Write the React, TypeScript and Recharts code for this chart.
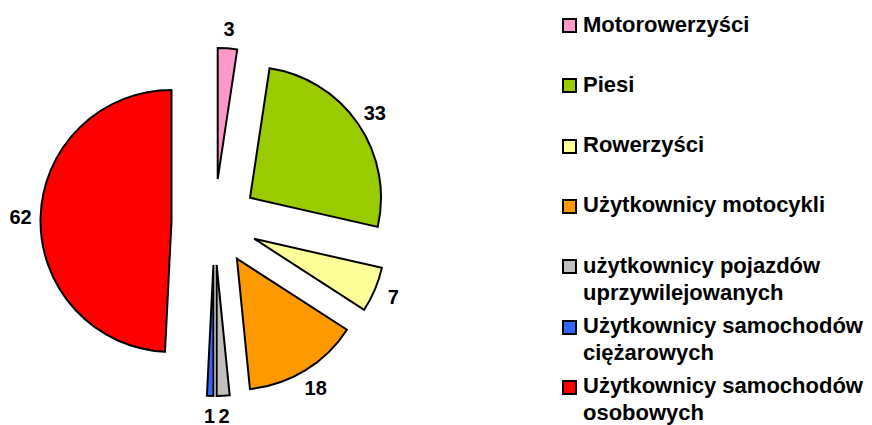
import { PieChart, Pie, Cell } from "recharts";

const categories = [
  "Motorowerzyści",
  "Piesi",
  "Rowerzyści",
  "Użytkownicy motocykli",
  "użytkownicy pojazdów uprzywilejowanych",
  "Użytkownicy samochodów ciężarowych",
  "Użytkownicy samochodów osobowych",
];
const legendLines = [
  ["Motorowerzyści"],
  ["Piesi"],
  ["Rowerzyści"],
  ["Użytkownicy motocykli"],
  ["użytkownicy pojazdów", "uprzywilejowanych"],
  ["Użytkownicy samochodów", "ciężarowych"],
  ["Użytkownicy samochodów", "osobowych"],
];
const values = [3, 33, 7, 18, 2, 1, 62];
const colors = ["#FF99CC", "#99CC00", "#FFFF99", "#FF9900", "#C0C0C0", "#3366FF", "#FF0000"];

const FONT = '"Liberation Sans", Arial, sans-serif';
const CX = 214.5;
const CY = 222;
const R = 131;
const EXPLODE = 43;

const data = categories.map((name, i) => ({ name, value: values[i] }));
const total = values.reduce((a, b) => a + b, 0);

// offset each slice outward along its mid angle (clockwise from 12 o'clock)
let cum = 0;
const offsets = values.map((v) => {
  const mid = ((90 - ((cum + v / 2) / total) * 360) * Math.PI) / 180;
  cum += v;
  return { dx: EXPLODE * Math.cos(mid), dy: -EXPLODE * Math.sin(mid) };
});

function makeLabel(j: number) {
  return (p: any) => {
    if (p.index !== j) return null;
    const a = (-p.midAngle * Math.PI) / 180;
    const r = p.outerRadius + 20;
    return (
      <text
        x={p.cx + r * Math.cos(a)}
        y={p.cy + r * Math.sin(a)}
        textAnchor="middle"
        dominantBaseline="central"
        fontFamily={FONT}
        fontWeight="bold"
        fontSize={20}
        fill="#000"
      >
        {p.value}
      </text>
    );
  };
}

function Legend() {
  return (
    <>
      {legendLines.map((lines, i) => {
        const top = 10.5 + i * 60.3;
        return (
          <div key={i} style={{ position: "absolute", left: 562, top }}>
            <div
              style={{
                position: "absolute",
                left: 0,
                top: 7.5,
                width: 15,
                height: 15,
                boxSizing: "border-box",
                border: "2px solid #000",
                background: colors[i],
              }}
            />
            <div
              style={{
                position: "absolute",
                left: 21,
                top: 0,
                whiteSpace: "nowrap",
                fontFamily: FONT,
                fontWeight: "bold",
                fontSize: 22,
                lineHeight: "27px",
                color: "#000",
              }}
            >
              {lines.map((l, k) => (
                <div key={k}>{l}</div>
              ))}
            </div>
          </div>
        );
      })}
    </>
  );
}

export default function App() {
  return (
    <div style={{ position: "absolute", left: 0, top: 0, width: 872, height: 425, background: "#fff" }}>
      <PieChart
        width={540}
        height={425}
        margin={{ top: 0, right: 0, bottom: 0, left: 0 }}
        style={{ position: "absolute", left: 0, top: 0 }}
      >
        {offsets.map((o, j) => (
          <Pie
            key={j}
            data={data}
            dataKey="value"
            nameKey="name"
            cx={CX + o.dx}
            cy={CY + o.dy}
            outerRadius={R}
            startAngle={90}
            endAngle={-270}
            labelLine={false}
            label={makeLabel(j)}
            isAnimationActive={false}
          >
            {data.map((_, i) => (
              <Cell
                key={i}
                fill={i === j ? colors[i] : "none"}
                stroke={i === j ? "#000" : "none"}
                strokeWidth={2}
              />
            ))}
          </Pie>
        ))}
      </PieChart>
      <Legend />
    </div>
  );
}
